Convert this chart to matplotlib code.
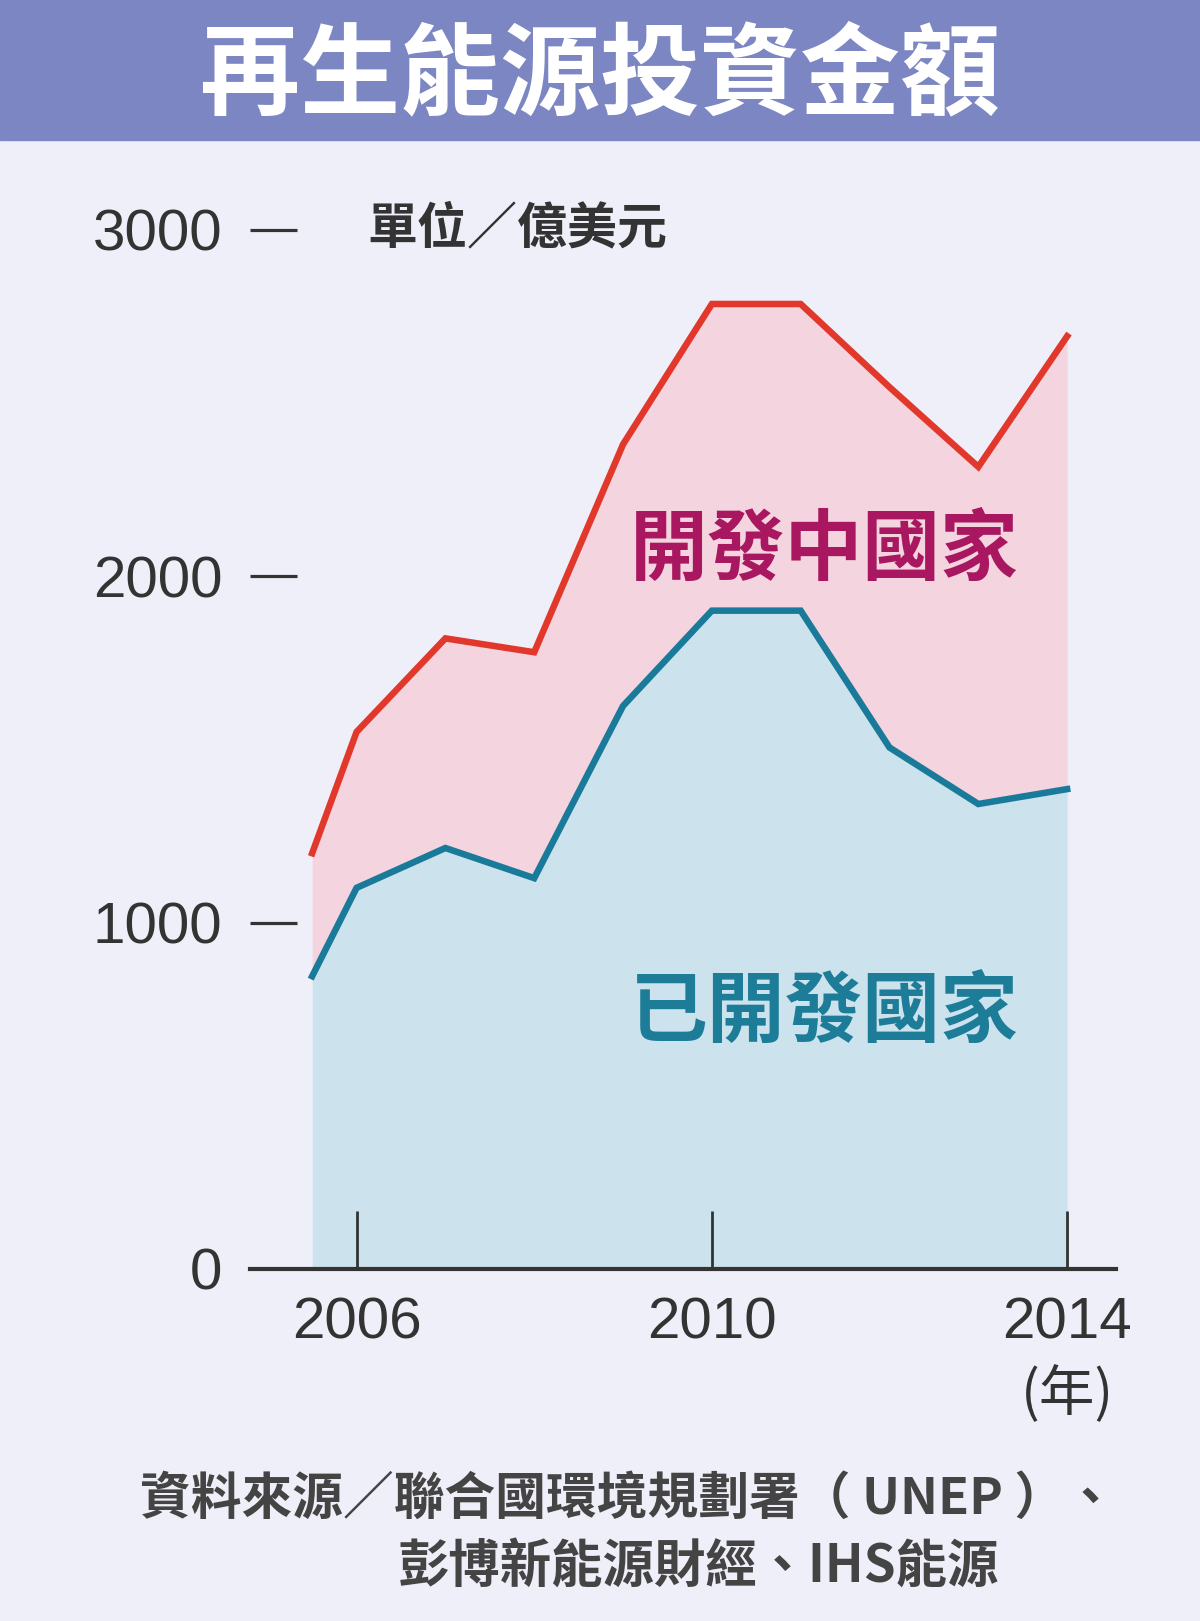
import matplotlib
matplotlib.use("Agg")
import matplotlib.pyplot as plt
from matplotlib.patches import Rectangle

plt.rcParams['font.family'] = ['Noto Sans CJK TC', 'DejaVu Sans']

# data (unit: 100 million USD)
years = [2005.5, 2006, 2007, 2008, 2009, 2010, 2011, 2012, 2013, 2014]
total = [1200, 1550, 1820, 1780, 2380, 2785, 2785, 2545, 2315, 2692]
developed = [845, 1100, 1215, 1128, 1625, 1900, 1900, 1505, 1342, 1385]

y_ticks = [0, 1000, 2000, 3000]
x_ticks = [2006, 2010, 2014]
x_tick_labels = ["2006", "2010", "2014"]

title = "再生能源投資金額"
unit = "單位／億美元"
label_dev = "已開發國家"
label_devg = "開發中國家"
source1 = "資料來源／聯合國環境規劃署（ UNEP ）、"
source2 = "彭博新能源財經、IHS能源"

bg = '#efeff9'
W, H = 1200, 1621

fig = plt.figure(figsize=(W / 100, H / 100), dpi=100, facecolor=bg)

def fx(px):
    return px / W

def fy(py):
    return 1 - py / H

# banner
fig.patches.append(Rectangle((0, fy(140)), 1, 140 / H, transform=fig.transFigure,
                             color='#7b86c3', zorder=0))
fig.text(fx(600), fy(77), title, color='white', fontsize=72, fontweight='bold',
         ha='center', va='center')

# axes: left 250, right 1116, y=0 at 1269, y=3000 at 229.5
ax = fig.add_axes([fx(250), fy(1269), fx(1116 - 250), (1269 - 229.5) / H])
ax.set_facecolor('none')
ax.set_xlim(2004.8, 2014.55)
ax.set_ylim(0, 3000)

ax.fill_between(years, 0, developed, color='#cce3ee', lw=0, zorder=1)
ax.fill_between(years, developed, total, color='#f3d4df', lw=0, zorder=1)
ax.plot(years, total, color='#e2382c', lw=4.7, solid_joinstyle='miter', zorder=3)
ax.plot(years, developed, color='#1a7a99', lw=4.7, solid_joinstyle='miter', zorder=3)

for s in ['top', 'right', 'left']:
    ax.spines[s].set_visible(False)
ax.spines['bottom'].set_color('#333333')
ax.spines['bottom'].set_linewidth(3)
ax.spines['bottom'].set_zorder(4)

ax.set_yticks(y_ticks)
ax.set_yticklabels([str(v) for v in y_ticks])
ax.set_xticks(x_ticks)
ax.set_xticklabels(x_tick_labels)
ax.tick_params(axis='y', direction='in', length=34, width=2.3, color='#333333',
               pad=20, labelsize=42, labelcolor='#333333')
ax.tick_params(axis='x', direction='in', length=42, width=2.0, color='#333333',
               pad=20, labelsize=42, labelcolor='#333333')
for lab in ax.get_xticklabels() + ax.get_yticklabels():
    lab.set_fontfamily('Liberation Sans')
ax.yaxis.get_major_ticks()[0].tick1line.set_visible(False)

# text labels
fig.text(fx(1067), fy(1395), "(年)", fontsize=40, color='#333333',
         ha='center', va='center')
fig.text(fx(517), fy(229), unit, fontsize=36, fontweight='bold', color='#333333',
         ha='center', va='center')
fig.text(fx(824), fy(551), label_devg, fontsize=56, fontweight='bold', color='#a8175f',
         ha='center', va='center', zorder=5)
fig.text(fx(824), fy(1013), label_dev, fontsize=56, fontweight='bold', color='#1d7c98',
         ha='center', va='center', zorder=5)
fig.text(fx(140), fy(1499), source1, fontsize=36.5, fontweight='bold', color='#444444',
         ha='left', va='center')
fig.text(fx(398), fy(1566), source2, fontsize=37, fontweight='bold', color='#444444',
         ha='left', va='center')

fig.savefig("out.png", dpi=100, facecolor=bg)
